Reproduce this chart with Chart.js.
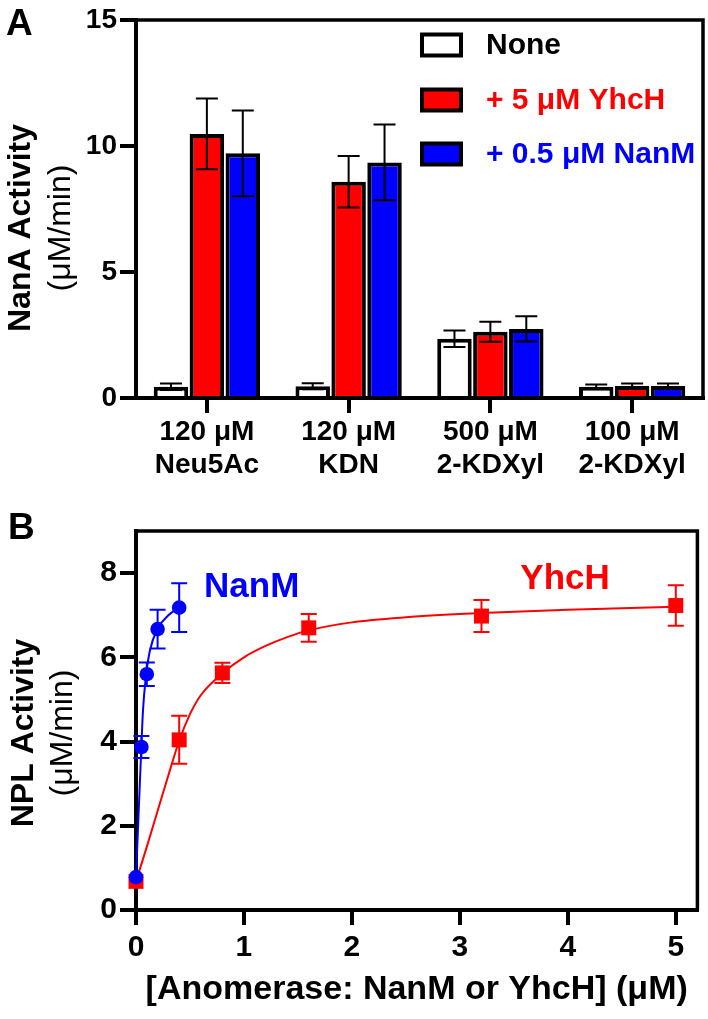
<!DOCTYPE html>
<html>
<head>
<meta charset="utf-8">
<script src="https://cdn.jsdelivr.net/npm/chart.js@4.4.1/dist/chart.umd.min.js"></script>
<style>
  html, body { margin: 0; padding: 0; background: #fff; }
  #wrap { position: relative; width: 708px; height: 1019px; }
  #panelA { position: absolute; left: 0; top: 0; }
  #panelB { position: absolute; left: 0; top: 490px; }
</style>
</head>
<body>
<div id="wrap">
  <canvas id="panelA" width="708" height="490"></canvas>
  <canvas id="panelB" width="708" height="529"></canvas>
</div>
<script>
// Panel A data
const substrates = [["120 μM", "Neu5Ac"], ["120 μM", "KDN"], ["500 μM", "2-KDXyl"], ["100 μM", "2-KDXyl"]];
const seriesNames = ["None", "+ 5 μM YhcH", "+ 0.5 μM NanM"];
const noneMean = [0.45, 0.47, 2.35, 0.45];
const noneErr = [0.13, 0.12, 0.33, 0.09];
const yhchMean = [10.48, 8.58, 2.63, 0.48];
const yhchErr = [1.4, 1.02, 0.4, 0.1];
const nanmMean = [9.71, 9.35, 2.74, 0.48];
const nanmErr = [1.7, 1.5, 0.5, 0.1];

// Panel B data
const nanmConc = [0, 0.05, 0.1, 0.2, 0.4];
const nanmRate = [0.78, 3.87, 5.6, 6.67, 7.18];
const nanmSd = [0, 0.26, 0.28, 0.46, 0.58];
const yhchConc = [0, 0.4, 0.8, 1.6, 3.2, 5];
const yhchRate = [0.68, 4.04, 5.63, 6.7, 6.98, 7.23];
const yhchSd = [0, 0.57, 0.24, 0.33, 0.38, 0.48];
// fitted curves
const nanmFitX = [0, 0.025, 0.05, 0.065, 0.09, 0.128, 0.2, 0.3, 0.4];
const nanmFitY = [0.78, 2.35, 3.9, 4.75, 5.5, 6.15, 6.68, 7.0, 7.18];
const yhchFitX = [0, 0.1, 0.2, 0.3, 0.4, 0.5, 0.6, 0.8, 1.0, 1.2, 1.4, 1.6, 2.0, 2.5, 3.2, 4.0, 5.0];
const yhchFitY = [0.68, 1.5, 2.35, 3.2, 4.02, 4.65, 5.1, 5.62, 6.0, 6.27, 6.48, 6.64, 6.83, 6.95, 7.05, 7.13, 7.2];
const curveLabels = [
  { text: "NanM", x: 0.63, y: 7.66, color: "#0000ff" },
  { text: "YhcH", x: 3.56, y: 7.85, color: "#ff0000" }
];

const FONT = "'Liberation Sans', Arial, sans-serif";
const RED = "#ff0000";
const BLUE = "#0000ff";
Chart.defaults.font.family = FONT;
Chart.defaults.color = "#000";

// top + right lines of the box
const framePlugin = {
  id: "frame",
  beforeDatasetsDraw(chart) {
    const { ctx, chartArea: a } = chart;
    ctx.save();
    ctx.strokeStyle = "#000";
    ctx.lineWidth = 3.5;
    ctx.beginPath();
    ctx.moveTo(a.left, a.top);
    ctx.lineTo(a.right, a.top);
    ctx.lineTo(a.right, a.bottom);
    ctx.stroke();
    ctx.restore();
  }
};

function yTitlePlugin(letter, letterPos, bold, plain, x1, x2, yc) {
  return {
    id: "ytitle",
    afterDraw(chart) {
      const ctx = chart.ctx;
      ctx.save();
      ctx.fillStyle = "#000";
      ctx.textBaseline = "middle";
      ctx.textAlign = "left";
      ctx.font = "bold 37px " + FONT;
      ctx.fillText(letter, letterPos[0], letterPos[1]);
      ctx.textAlign = "center";
      ctx.translate(x1, yc);
      ctx.rotate(-Math.PI / 2);
      ctx.font = "bold 32px " + FONT;
      ctx.fillText(bold, 0, 0);
      ctx.restore();
      ctx.save();
      ctx.fillStyle = "#000";
      ctx.textBaseline = "middle";
      ctx.textAlign = "center";
      ctx.translate(x2, yc);
      ctx.rotate(-Math.PI / 2);
      ctx.font = "32px " + FONT;
      ctx.fillText(plain, 0, 0);
      ctx.restore();
    }
  };
}

// Panel A
const barErrors = {
  id: "barErrors",
  afterDatasetsDraw(chart) {
    const ctx = chart.ctx;
    const y = chart.scales.y;
    chart.data.datasets.forEach((ds, i) => {
      chart.getDatasetMeta(i).data.forEach((bar, j) => {
        const v = ds.data[j], e = ds.errs[j];
        const top = y.getPixelForValue(v + e);
        const bot = y.getPixelForValue(v - e);
        ctx.save();
        ctx.strokeStyle = "#000";
        ctx.lineWidth = 2;
        ctx.beginPath();
        ctx.moveTo(bar.x, top); ctx.lineTo(bar.x, bot);
        ctx.moveTo(bar.x - 11, top); ctx.lineTo(bar.x + 11, top);
        ctx.moveTo(bar.x - 11, bot); ctx.lineTo(bar.x + 11, bot);
        ctx.stroke();
        ctx.restore();
      });
    });
  }
};

const legendA = {
  id: "legendA",
  afterDraw(chart) {
    const ctx = chart.ctx;
    const rows = [45, 100, 154];
    chart.data.datasets.forEach((ds, i) => {
      ctx.save();
      ctx.fillStyle = ds.borderColor;
      ctx.fillRect(420, rows[i] - 12.5, 43, 25);
      ctx.fillStyle = ds.backgroundColor;
      ctx.fillRect(424, rows[i] - 8.5, 35, 17);
      ctx.fillStyle = ds.textColor;
      ctx.font = "bold 30px " + FONT;
      ctx.textBaseline = "middle";
      ctx.fillText(ds.label, 486, rows[i] + 1);
      ctx.restore();
    });
  }
};

new Chart(document.getElementById("panelA"), {
  type: "bar",
  data: {
    labels: substrates,
    datasets: [
      { label: seriesNames[0], data: noneMean, errs: noneErr, backgroundColor: "#ffffff", borderColor: "#000", textColor: "#000", borderWidth: 4 },
      { label: seriesNames[1], data: yhchMean, errs: yhchErr, backgroundColor: RED, borderColor: "#000", textColor: RED, borderWidth: 4 },
      { label: seriesNames[2], data: nanmMean, errs: nanmErr, backgroundColor: BLUE, borderColor: "#000", textColor: BLUE, borderWidth: 4 }
    ]
  },
  options: {
    responsive: false,
    animation: false,
    categoryPercentage: 0.76,
    barPercentage: 0.96,
    layout: { padding: { left: 0, top: 20, right: 5, bottom: 0 } },
    plugins: { legend: { display: false }, tooltip: { enabled: false } },
    scales: {
      x: {
        grid: { offset: false, drawOnChartArea: false, tickLength: 15, lineWidth: 4, color: "#000" },
        border: { width: 4, color: "#000" },
        ticks: { font: { size: 28, weight: "bold", lineHeight: 1.18 }, padding: 3, color: "#000", maxRotation: 0 },
        afterFit: s => { s.height = 92; }
      },
      y: {
        min: 0, max: 15,
        grid: { drawOnChartArea: false, tickLength: 16, lineWidth: 4, color: "#000" },
        border: { width: 4, color: "#000" },
        ticks: { stepSize: 5, font: { size: 28, weight: "bold" }, padding: 3, color: "#000" },
        afterFit: s => { s.width = 136; }
      }
    }
  },
  plugins: [framePlugin, barErrors, legendA, yTitlePlugin("A", [6, 25], "NanA Activity", "(μM/min)", 21, 61, 228)]
});

// Panel B
const pointErrors = {
  id: "pointErrors",
  afterDatasetsDraw(chart) {
    const ctx = chart.ctx;
    const y = chart.scales.y;
    chart.data.datasets.forEach((ds, i) => {
      if (!ds.sd) return;
      chart.getDatasetMeta(i).data.forEach((pt, j) => {
        const e = ds.sd[j];
        if (!e) return;
        const v = ds.data[j].y;
        const top = y.getPixelForValue(v + e);
        const bot = y.getPixelForValue(v - e);
        ctx.save();
        ctx.strokeStyle = ds.borderColor;
        ctx.lineWidth = 2;
        ctx.beginPath();
        ctx.moveTo(pt.x, top); ctx.lineTo(pt.x, bot);
        ctx.moveTo(pt.x - 8, top); ctx.lineTo(pt.x + 8, top);
        ctx.moveTo(pt.x - 8, bot); ctx.lineTo(pt.x + 8, bot);
        ctx.stroke();
        ctx.restore();
      });
    });
  }
};

const curveText = {
  id: "curveText",
  afterDraw(chart) {
    const ctx = chart.ctx;
    const { x, y } = chart.scales;
    curveLabels.forEach(l => {
      ctx.save();
      ctx.fillStyle = l.color;
      ctx.font = "bold 35px " + FONT;
      ctx.textBaseline = "middle";
      ctx.fillText(l.text, x.getPixelForValue(l.x), y.getPixelForValue(l.y));
      ctx.restore();
    });
  }
};

const toPts = (xs, ys) => xs.map((v, i) => ({ x: v, y: ys[i] }));

new Chart(document.getElementById("panelB"), {
  type: "scatter",
  data: {
    datasets: [
      { label: "NanM", data: toPts(nanmConc, nanmRate), sd: nanmSd, pointStyle: "circle", pointRadius: 7.3,
        backgroundColor: BLUE, borderColor: BLUE, borderWidth: 0, showLine: false, clip: false },
      { label: "YhcH", data: toPts(yhchConc, yhchRate), sd: yhchSd, pointStyle: "rect", pointRadius: 10.6,
        backgroundColor: RED, borderColor: RED, borderWidth: 0, showLine: false, clip: false },
      { label: "NanM fit", data: toPts(nanmFitX, nanmFitY), showLine: true, pointRadius: 0, borderColor: BLUE,
        borderWidth: 2, cubicInterpolationMode: "monotone", clip: false },
      { label: "YhcH fit", data: toPts(yhchFitX, yhchFitY), showLine: true, pointRadius: 0, borderColor: RED,
        borderWidth: 2, cubicInterpolationMode: "monotone", clip: false }
    ]
  },
  options: {
    responsive: false,
    animation: false,
    layout: { padding: { left: 0, top: 41, right: 4, bottom: 0 } },
    plugins: { legend: { display: false }, tooltip: { enabled: false } },
    scales: {
      x: {
        type: "linear", min: 0, max: 5.2,
        grid: { drawOnChartArea: false, tickLength: 15, lineWidth: 4, color: "#000" },
        border: { width: 4, color: "#000" },
        ticks: { stepSize: 1, includeBounds: false, font: { size: 30, weight: "bold" }, padding: 5, color: "#000" },
        title: { display: true, text: "[Anomerase: NanM or YhcH] (μM)", font: { size: 34, weight: "bold" }, color: "#000", padding: { top: 0, bottom: 9 } },
        afterFit: s => { s.height = 109; }
      },
      y: {
        min: 0, max: 9,
        grid: { drawOnChartArea: false, tickLength: 16, lineWidth: 4, color: "#000" },
        border: { width: 4, color: "#000" },
        ticks: { stepSize: 2, includeBounds: false, font: { size: 30, weight: "bold" }, padding: 3, color: "#000" },
        afterFit: s => { s.width = 136; }
      }
    }
  },
  plugins: [framePlugin, pointErrors, curveText, yTitlePlugin("B", [8, 39], "NPL Activity", "(μM/min)", 24, 63, 243)]
});
</script>
</body>
</html>
